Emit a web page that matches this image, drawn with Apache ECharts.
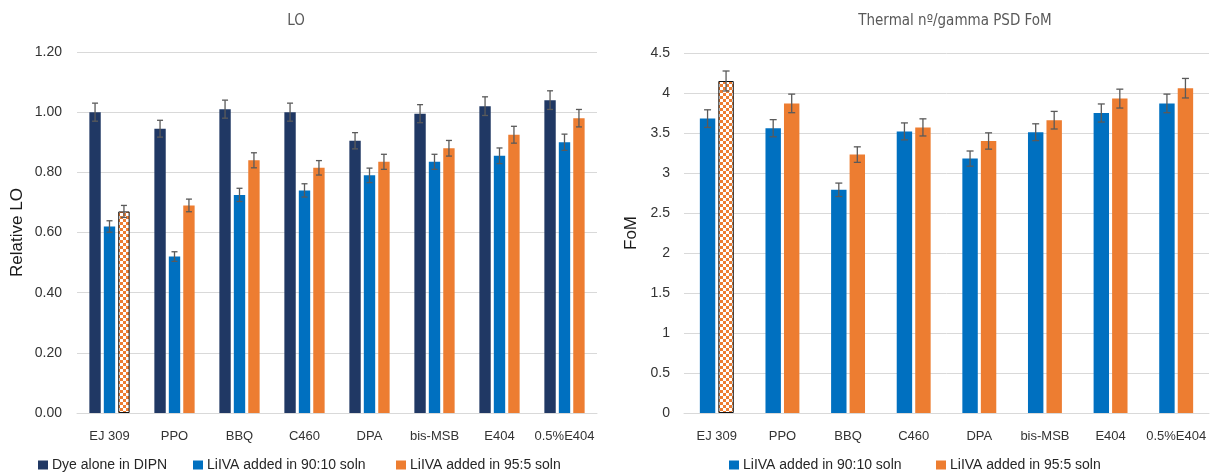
<!DOCTYPE html>
<html>
<head>
<meta charset="utf-8">
<script src="https://cdn.jsdelivr.net/npm/echarts@6/dist/echarts.min.js"></script>
<style>
  html, body { margin: 0; padding: 0; background: #fff; }
  #chart { width: 1211px; height: 473px; }
</style>
</head>
<body>
<div id="chart"></div>
<script>
// Categories shared by both panels
const categories = ['EJ 309', 'PPO', 'BBQ', 'C460', 'DPA', 'bis-MSB', 'E404', '0.5%E404'];

// Series names
const nameDye = 'Dye alone in DIPN';
const name9010 = 'LiIVA added in 90:10 soln';
const name955 = 'LiIVA added in 95:5 soln';

// Relative light output
const loDye = [1.00, 0.945, 1.01, 1.00, 0.905, 0.995, 1.02, 1.04];
const lo9010 = [0.62, 0.52, 0.725, 0.74, 0.79, 0.835, 0.855, 0.90];
const lo955 = [0.67, 0.69, 0.84, 0.815, 0.835, 0.88, 0.925, 0.98];
const loDyeErr = [0.030, 0.028, 0.030, 0.030, 0.027, 0.030, 0.031, 0.031];
const lo9010Err = [0.019, 0.016, 0.022, 0.022, 0.024, 0.025, 0.026, 0.027];
const lo955Err = [0.020, 0.021, 0.025, 0.024, 0.025, 0.026, 0.028, 0.029];

// Thermal n/gamma PSD figure of merit
const fom9010 = [3.68, 3.56, 2.79, 3.52, 3.18, 3.51, 3.75, 3.87];
const fom955 = [4.15, 3.87, 3.23, 3.57, 3.40, 3.66, 3.93, 4.06];
const fom9010Err = [0.110, 0.107, 0.084, 0.106, 0.095, 0.105, 0.113, 0.116];
const fom955Err = [0.125, 0.116, 0.097, 0.107, 0.102, 0.110, 0.118, 0.122];

// Axis ticks
const loTicks = { min: 0, max: 1.2, interval: 0.2 };
const fomTicks = { min: 0, max: 4.5, interval: 0.5 };

const cNavy = '#203864';
const cBlue = '#0070C0';
const cOrange = '#ED7D31';
const cErr = '#5a5a5a';
const font = '"Liberation Sans", Arial, sans-serif';
const narrow = '"DejaVu Sans Condensed", "Liberation Sans", sans-serif';

// Orange/white checkerboard used for the EJ 309 reference bar
function checker() {
  const cv = document.createElement('canvas');
  const s = 3;
  cv.width = s * 2; cv.height = s * 2;
  const ctx = cv.getContext('2d');
  ctx.fillStyle = '#ffffff';
  ctx.fillRect(0, 0, s * 2, s * 2);
  ctx.fillStyle = cOrange;
  ctx.fillRect(0, 0, s, s);
  ctx.fillRect(s, s, s, s);
  return { image: cv, repeat: 'repeat' };
}
const checkerFill = checker();

function withChecker(values) {
  return values.map((v, i) => i === 0
    ? { value: v, itemStyle: { color: checkerFill, borderColor: '#111', borderWidth: 1 } }
    : v);
}

// Error bar drawn at the centre of the k-th bar of an n-bar group
function errorBars(k, n, widthFrac, gapFrac, cap) {
  return function (params, api) {
    const cat = api.value(0), val = api.value(1), err = api.value(2);
    const band = api.size([1, 0])[0];
    const w = band * widthFrac;
    const step = w * (1 + gapFrac);
    const off = (k - (n - 1) / 2) * step;
    const hi = api.coord([cat, val + err]);
    const lo = api.coord([cat, val - err]);
    const x = hi[0] + off;
    const st = { stroke: cErr, lineWidth: 1.3 };
    return {
      type: 'group',
      children: [
        { type: 'line', shape: { x1: x, y1: hi[1], x2: x, y2: lo[1] }, style: st },
        { type: 'line', shape: { x1: x - cap, y1: hi[1], x2: x + cap, y2: hi[1] }, style: st },
        { type: 'line', shape: { x1: x - cap, y1: lo[1], x2: x + cap, y2: lo[1] }, style: st }
      ]
    };
  };
}

function errData(vals, errs) {
  return vals.map((v, i) => [i, v, errs[i]]);
}

const LW = 0.175, LG = 0.27;   // left panel bar width / gap fractions
const RW = 0.235, RG = 0.2;    // right panel bar width / gap fractions

const textDark = '#333333';
const axisLabelStyle = { color: textDark, fontSize: 14, fontFamily: font };
const catLabelStyle = { color: textDark, fontSize: 13, fontFamily: font, interval: 0, margin: 17 };

// One legend block per entry so each sits at its own x position
function legendItem(name, left) {
  return {
    left: left, top: 458, itemWidth: 10, itemHeight: 9, padding: 0,
    data: [name], icon: 'rect',
    textStyle: { color: '#262626', fontSize: 14, fontFamily: font, padding: [0, 0, 0, -1] }
  };
}

const option = {
  animation: false,
  graphic: [
    { type: 'text', x: 296, y: 21, style: { text: 'LO', fill: '#595959', font: '15px ' + narrow, align: 'center', verticalAlign: 'middle' } },
    { type: 'text', x: 955, y: 21, style: { text: 'Thermal nº/gamma PSD FoM', fill: '#595959', font: '15px ' + narrow, align: 'center', verticalAlign: 'middle' } }
  ],
  legend: [
    legendItem(nameDye, 38),
    legendItem(name9010, 193),
    legendItem(name955, 396),
    legendItem(name9010 + ' ', 729),
    legendItem(name955 + ' ', 936)
  ],
  grid: [
    { left: 77, right: 614, top: 52, bottom: 60 },
    { left: 684, right: 2, top: 53, bottom: 60 }
  ],
  xAxis: [
    {
      type: 'category', gridIndex: 0, data: categories,
      axisTick: { show: false },
      axisLine: { lineStyle: { color: '#d9d9d9' } },
      axisLabel: catLabelStyle
    },
    {
      type: 'category', gridIndex: 1, data: categories,
      axisTick: { show: false },
      axisLine: { lineStyle: { color: '#d9d9d9' } },
      axisLabel: catLabelStyle
    }
  ],
  yAxis: [
    {
      type: 'value', gridIndex: 0, min: loTicks.min, max: loTicks.max, interval: loTicks.interval,
      name: 'Relative LO', nameLocation: 'middle', nameGap: 51,
      nameTextStyle: { color: '#1a1a1a', fontSize: 17, fontFamily: font },
      axisLabel: Object.assign({ margin: 15, formatter: v => v.toFixed(2) }, axisLabelStyle),
      splitLine: { lineStyle: { color: '#d9d9d9' } }
    },
    {
      type: 'value', gridIndex: 1, min: fomTicks.min, max: fomTicks.max, interval: fomTicks.interval,
      name: 'FoM', nameLocation: 'middle', nameGap: 44,
      nameTextStyle: { color: '#1a1a1a', fontSize: 17, fontFamily: font },
      axisLabel: Object.assign({ margin: 14 }, axisLabelStyle),
      splitLine: { lineStyle: { color: '#d9d9d9' } }
    }
  ],
  series: [
    { name: nameDye, type: 'bar', xAxisIndex: 0, yAxisIndex: 0, data: loDye, barWidth: (LW * 100) + '%', barGap: (LG * 100) + '%', itemStyle: { color: cNavy } },
    { name: name9010, type: 'bar', xAxisIndex: 0, yAxisIndex: 0, data: lo9010, barWidth: (LW * 100) + '%', barGap: (LG * 100) + '%', itemStyle: { color: cBlue } },
    { name: name955, type: 'bar', xAxisIndex: 0, yAxisIndex: 0, data: withChecker(lo955), barWidth: (LW * 100) + '%', barGap: (LG * 100) + '%', itemStyle: { color: cOrange } },
    { name: 'errDye', type: 'custom', xAxisIndex: 0, yAxisIndex: 0, z: 5, data: errData(loDye, loDyeErr), renderItem: errorBars(0, 3, LW, LG, 3) },
    { name: 'err9010', type: 'custom', xAxisIndex: 0, yAxisIndex: 0, z: 5, data: errData(lo9010, lo9010Err), renderItem: errorBars(1, 3, LW, LG, 3) },
    { name: 'err955', type: 'custom', xAxisIndex: 0, yAxisIndex: 0, z: 5, data: errData(lo955, lo955Err), renderItem: errorBars(2, 3, LW, LG, 3) },

    { name: name9010 + ' ', type: 'bar', xAxisIndex: 1, yAxisIndex: 1, data: fom9010, barWidth: (RW * 100) + '%', barGap: (RG * 100) + '%', itemStyle: { color: cBlue } },
    { name: name955 + ' ', type: 'bar', xAxisIndex: 1, yAxisIndex: 1, data: withChecker(fom955), barWidth: (RW * 100) + '%', barGap: (RG * 100) + '%', itemStyle: { color: cOrange } },
    { name: 'errF9010', type: 'custom', xAxisIndex: 1, yAxisIndex: 1, z: 5, data: errData(fom9010, fom9010Err), renderItem: errorBars(0, 2, RW, RG, 3.5) },
    { name: 'errF955', type: 'custom', xAxisIndex: 1, yAxisIndex: 1, z: 5, data: errData(fom955, fom955Err), renderItem: errorBars(1, 2, RW, RG, 3.5) }
  ]
};

const chart = echarts.init(document.getElementById('chart'), null, { renderer: 'canvas' });
chart.setOption(option);
</script>
</body>
</html>
